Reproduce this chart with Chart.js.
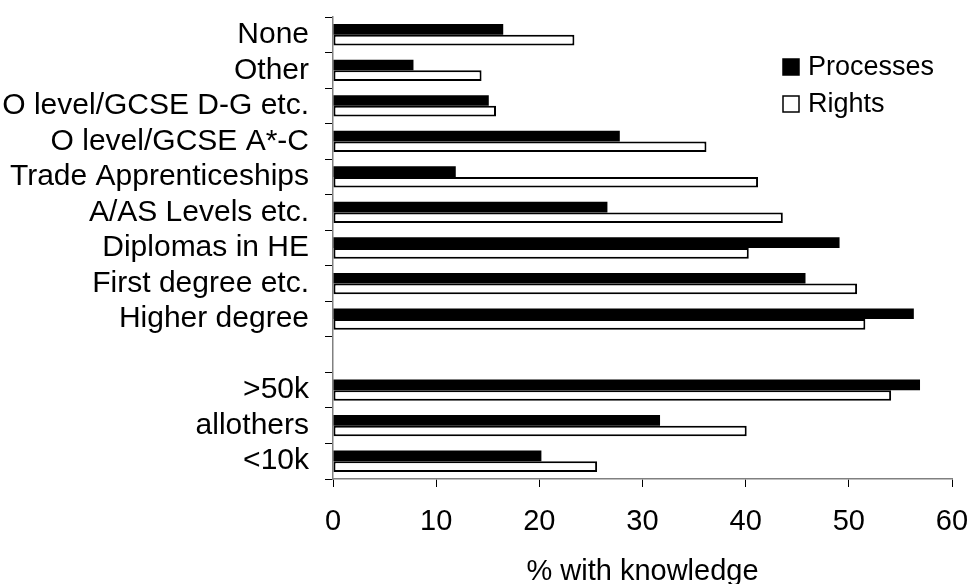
<!DOCTYPE html>
<html>
<head>
<meta charset="utf-8">
<script src="https://cdn.jsdelivr.net/npm/chart.js@4"></script>
<style>
  html, body { margin: 0; padding: 0; background: #fff; }
  #wrap { width: 971px; height: 584px; }
</style>
</head>
<body>
<div id="wrap"><canvas id="chart" width="971" height="584"></canvas></div>
<script>
// Data
const categories = [
  "None", "Other", "O level/GCSE D-G etc.", "O level/GCSE A*-C",
  "Trade Apprenticeships", "A/AS Levels etc.", "Diplomas in HE",
  "First degree etc.", "Higher degree", "", ">50k", "allothers", "<10k"
];
const processes = [16.5, 7.8, 15.1, 27.8, 11.9, 26.6, 49.1, 45.8, 56.3, null, 56.9, 31.7, 20.2];
const rights    = [23.4, 14.4, 15.8, 36.2, 41.2, 43.6, 40.3, 50.8, 51.6, null, 54.1, 40.1, 25.6];
const xTicks = [0, 10, 20, 30, 40, 50, 60];

const FONT = "'Liberation Sans', Arial, sans-serif";

// Legend drawn inside the plot, top right
const boxLegend = {
  id: "boxLegend",
  afterDraw(chart) {
    const ctx = chart.ctx;
    const area = chart.chartArea;
    const x = area.right - 169;
    let y = area.top + 50;
    ctx.save();
    ctx.font = "27px " + FONT;
    ctx.textBaseline = "middle";
    chart.data.datasets.forEach(ds => {
      ctx.fillStyle = ds.backgroundColor;
      ctx.fillRect(x, y - 8, 16, 16);
      ctx.strokeStyle = "#000";
      ctx.lineWidth = 1.5;
      ctx.strokeRect(x, y - 8, 16, 16);
      ctx.fillStyle = "#000";
      ctx.fillText(ds.label, x + 25, y + 1);
      y += 37;
    });
    ctx.restore();
  }
};

new Chart(document.getElementById("chart"), {
  type: "bar",
  data: {
    labels: categories,
    datasets: [
      {
        label: "Processes",
        data: processes,
        backgroundColor: "#000000",
        borderWidth: 0
      },
      {
        label: "Rights",
        data: rights,
        backgroundColor: "#ffffff",
        borderColor: "#000000",
        borderWidth: 2,
        borderSkipped: false
      }
    ]
  },
  options: {
    indexAxis: "y",
    responsive: false,
    animation: false,
    categoryPercentage: 0.6,
    barPercentage: 1.0,
    layout: { padding: { top: 17, right: 19, left: 0, bottom: 0 } },
    plugins: {
      legend: { display: false },
      tooltip: { enabled: false }
    },
    scales: {
      x: {
        min: 0,
        max: 60,
        afterBuildTicks: axis => { axis.ticks = xTicks.map(v => ({ value: v })); },
        afterFit: axis => {
          axis.height = 105;
          axis.paddingLeft = 0;
          axis.paddingRight = 0;
        },
        grid: { drawOnChartArea: false, tickLength: 8, color: "#000", tickWidth: 1 },
        border: { color: "#808080", width: 1.5 },
        ticks: { color: "#000", padding: 18, font: { family: FONT, size: 29 } },
        title: {
          display: true,
          text: "% with knowledge",
          color: "#000",
          font: { family: FONT, size: 29, lineHeight: 0.85 },
          padding: { top: 4, bottom: 0 }
        }
      },
      y: {
        afterFit: axis => {
          axis.width = 333;
          axis.paddingTop = 0;
          axis.paddingBottom = 0;
        },
        grid: { drawOnChartArea: false, tickLength: 8, offset: true, color: "#000", tickWidth: 1 },
        border: { color: "#808080", width: 1.5 },
        ticks: { color: "#000", padding: 16, autoSkip: false, font: { family: FONT, size: 30 } }
      }
    }
  },
  plugins: [boxLegend]
});
</script>
</body>
</html>
